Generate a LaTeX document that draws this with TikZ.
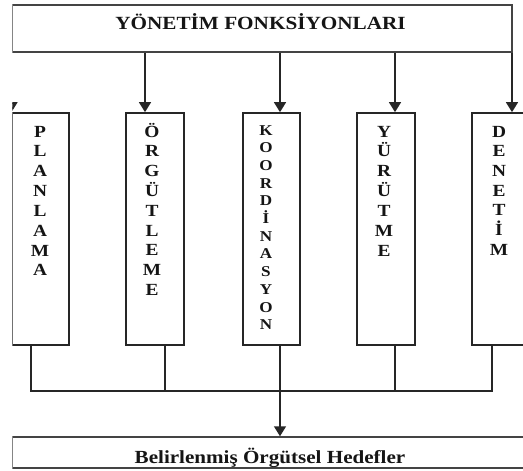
\documentclass[tikz,border=0pt]{standalone}
\usepackage{fontspec}
\setmainfont{Liberation Serif}
\newfontfamily\tbf[FakeStretch=1.14]{Liberation Serif}
\usetikzlibrary{arrows.meta}
\definecolor{ln}{HTML}{262626}
\definecolor{lnl}{HTML}{444444}
\definecolor{tx}{HTML}{151515}
\tikzset{
  box/.style={draw=ln, line width=1.7pt, inner sep=0pt, fill=white},
  wbox/.style={draw=lnl, line width=1.5pt, inner sep=0pt, fill=white},
  conn/.style={draw=ln, line width=1.6pt},
  arr/.style={conn, -{Triangle[width=12pt,length=10pt]}},
  let/.style={text=tx, inner sep=0pt, font=\tbf\bfseries\fontsize{17}{17}\selectfont},
  lets/.style={text=tx, inner sep=0pt, font=\tbf\bfseries\fontsize{15}{15}\selectfont},
  ttl/.style={text=tx, inner sep=0pt, font=\tbf\bfseries\fontsize{18.6}{18.6}\selectfont}
}
\begin{document}
\begin{tikzpicture}[x=1pt,y=-1pt]
\useasboundingbox (0,0) rectangle (523,471);
\fill[white] (0,0) rectangle (523,471);
\begin{scope}
\clip (12.35,0) rectangle (523,471);
% top box
\node[wbox, minimum width=500pt, minimum height=47pt] (top) at (262,28.5) {};
\node[ttl, anchor=base] (toptext) at (260.5,29) {YÖNETİM FONKSİYONLARI};
% function boxes
\node[box, minimum width=57pt, minimum height=232pt] (b1) at (40.5,229) {};
\node[box, minimum width=58pt, minimum height=232pt] (b2) at (155,229) {};
\node[box, minimum width=57pt, minimum height=232pt] (b3) at (271.5,229) {};
\node[box, minimum width=58pt, minimum height=232pt] (b4) at (386,229) {};
\node[box, minimum width=128pt, minimum height=232pt] (b5) at (536,229) {};
% bottom box
\node[wbox, minimum width=588pt, minimum height=31pt] (bot) at (306,452.5) {};
\node[ttl, anchor=base, font=\tbf\bfseries\fontsize{18.5}{18.5}\selectfont] (bottext) at (270,463) {Belirlenmiş Örgütsel Hedefler};
% arrows from the top box
\draw[arr] (11.5,0 |- top.south) -- (11.5,0 |- b1.north);
\draw[arr] (145,0 |- top.south) -- (145,0 |- b2.north);
\draw[arr] (280,0 |- top.south) -- (280,0 |- b3.north);
\draw[arr] (395,0 |- top.south) -- (395,0 |- b4.north);
\draw[arr] (512,0 |- top.south) -- (512,0 |- b5.north);
% lower connectors
\coordinate (hl) at (31,391);
\coordinate (hr) at (492,391);
\draw[conn] (31,0 |- b1.south) -- (hl) -- (hr) -- (492,0 |- b5.south);
\draw[conn] (165,0 |- b2.south) -- (165,391);
\draw[conn] (395,0 |- b4.south) -- (395,391);
\draw[arr] (280,0 |- b3.south) -- (280,0 |- bot.north);
% vertical letters
\foreach \l [count=\i from 0] in {P,L,A,N,L,A,M,A}
  \node[let, anchor=base] (pl\i) at (40,{137+\i*19.85}) {\l};
\foreach \l [count=\i from 0] in {Ö,R,G,Ü,T,L,E,M,E}
  \node[let, anchor=base] (or\i) at (152,{137+\i*19.8}) {\l};
\foreach \l [count=\i from 0] in {K,O,O,R,D,İ,N,A,S,Y,O,N}
  \node[lets, anchor=base] (ko\i) at (266,{135+\i*17.7}) {\l};
\foreach \l [count=\i from 0] in {Y,Ü,R,Ü,T,M,E}
  \node[let, anchor=base] (yu\i) at (384,{137+\i*19.85}) {\l};
\foreach \l [count=\i from 0] in {D,E,N,E,T,İ,M}
  \node[let, anchor=base] (de\i) at (499,{137+\i*19.7}) {\l};
\end{scope}
\end{tikzpicture}
\end{document}
